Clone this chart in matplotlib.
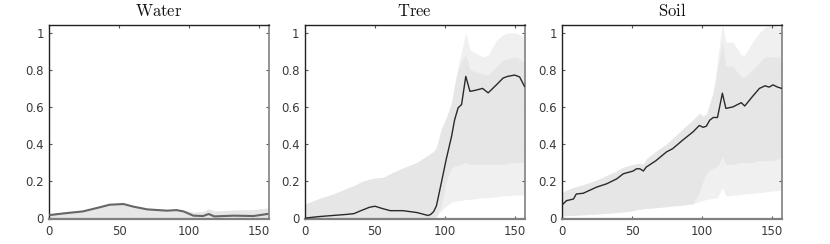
import numpy as np
import matplotlib
matplotlib.use("Agg")
import matplotlib.pyplot as plt

plt.rcParams['mathtext.fontset'] = 'cm'
plt.rcParams['font.family'] = ['DejaVu Sans']

titles = ["Water", "Tree", "Soil"]

# ---------------- Water ----------------
x_w = [0, 10, 24, 36, 43, 53, 60, 70, 84, 91, 96, 103, 110, 114, 118, 132, 146, 156]
mean_w = [0.016, 0.025, 0.036, 0.058, 0.072, 0.076, 0.062, 0.047, 0.040, 0.043, 0.036,
          0.013, 0.011, 0.022, 0.009, 0.013, 0.011, 0.022]
upper_w = [0.020, 0.030, 0.040, 0.062, 0.076, 0.080, 0.066, 0.051, 0.044, 0.047, 0.042,
           0.032, 0.035, 0.050, 0.038, 0.043, 0.045, 0.054]
lower_w = [0.0] * 18
dlo_w = lower_w
dhi_w = upper_w

# ---------------- Tree ----------------
x_t = [0, 5, 10, 20, 30, 35, 40, 46, 50, 56, 61, 70, 80, 86, 88, 90, 92, 94, 97.5, 101,
       104.8, 107, 109.5, 112, 115, 118, 122, 127, 131, 137, 141.7, 145, 150, 153.5, 157]
mean_t = [0.0, 0.004, 0.008, 0.014, 0.02, 0.024, 0.04, 0.058, 0.064, 0.05, 0.04, 0.04, 0.03,
          0.018, 0.014, 0.02, 0.035, 0.066, 0.19, 0.317, 0.44, 0.53, 0.595, 0.613, 0.765,
          0.684, 0.69, 0.70, 0.676, 0.72, 0.756, 0.765, 0.772, 0.762, 0.711]
upper_t = [0.075, 0.09, 0.105, 0.13, 0.16, 0.175, 0.195, 0.21, 0.215, 0.22, 0.24, 0.27, 0.30,
           0.33, 0.34, 0.35, 0.36, 0.38, 0.48, 0.54, 0.62, 0.72, 0.82, 0.90, 1.0, 0.91, 0.89,
           0.87, 0.88, 0.96, 0.99, 1.0, 1.0, 0.99, 0.98]
lower_t = [0.0] * 17 + [0.01, 0.04, 0.065, 0.085, 0.09, 0.095, 0.095, 0.10, 0.10, 0.105,
                        0.11, 0.11, 0.115, 0.12, 0.12, 0.125, 0.125, 0.125]
dlo_t = [0.0] * 17 + [0.01, 0.06, 0.20, 0.27, 0.28, 0.285, 0.29, 0.30, 0.29, 0.29,
                      0.29, 0.29, 0.29, 0.29, 0.295, 0.30, 0.30, 0.30]
dhi_t = [0.075, 0.09, 0.105, 0.13, 0.16, 0.175, 0.195, 0.21, 0.215, 0.22, 0.24, 0.27, 0.30,
         0.33, 0.34, 0.35, 0.36, 0.38, 0.48, 0.54, 0.62, 0.72, 0.80, 0.85, 0.88, 0.80, 0.79,
         0.78, 0.77, 0.82, 0.85, 0.86, 0.87, 0.86, 0.84]

# ---------------- Soil ----------------
x_s = [0, 3, 8, 10, 15, 24.5, 31.7, 39, 43.6, 50.7, 53, 55.5, 58, 60, 67, 74.5, 79, 86,
       93.6, 98, 100.7, 103, 105.5, 108, 111, 114.5, 117, 122, 128, 130.5, 136, 141, 145,
       148, 150.7, 154, 157]
mean_s = [0.072, 0.094, 0.103, 0.13, 0.134, 0.167, 0.185, 0.212, 0.239, 0.254, 0.266, 0.266,
          0.254, 0.275, 0.31, 0.357, 0.375, 0.42, 0.466, 0.50, 0.49, 0.496, 0.529, 0.543,
          0.543, 0.674, 0.592, 0.60, 0.623, 0.605, 0.656, 0.70, 0.714, 0.707, 0.719, 0.707, 0.70]
upper_s = [0.14, 0.15, 0.165, 0.17, 0.18, 0.205, 0.23, 0.255, 0.275, 0.29, 0.293, 0.295, 0.29,
           0.32, 0.36, 0.40, 0.43, 0.48, 0.53, 0.565, 0.55, 0.56, 0.62, 0.68, 0.85, 1.05, 0.95,
           0.95, 0.88, 0.88, 0.95, 1.0, 1.03, 1.04, 1.04, 1.03, 1.03]
lower_s = [0.012, 0.013, 0.015, 0.016, 0.018, 0.022, 0.026, 0.03, 0.033, 0.04, 0.045, 0.048,
           0.05, 0.052, 0.056, 0.062, 0.066, 0.07, 0.078, 0.09, 0.095, 0.10, 0.104, 0.107,
           0.11, 0.165, 0.12, 0.123, 0.128, 0.13, 0.134, 0.138, 0.141, 0.144, 0.146, 0.148, 0.15]
dlo_s = [0.012, 0.013, 0.015, 0.016, 0.018, 0.022, 0.026, 0.03, 0.033, 0.04, 0.045, 0.048,
         0.05, 0.052, 0.056, 0.062, 0.066, 0.07, 0.078, 0.14, 0.20, 0.24, 0.26, 0.27, 0.28,
         0.33, 0.29, 0.29, 0.30, 0.30, 0.30, 0.31, 0.31, 0.31, 0.31, 0.32, 0.32]
dhi_s = [0.14, 0.15, 0.165, 0.17, 0.18, 0.205, 0.23, 0.255, 0.275, 0.29, 0.293, 0.295, 0.29,
         0.32, 0.36, 0.40, 0.43, 0.48, 0.53, 0.565, 0.55, 0.56, 0.62, 0.68, 0.80, 0.95, 0.82,
         0.82, 0.76, 0.76, 0.80, 0.84, 0.87, 0.87, 0.87, 0.87, 0.87]

panels = [
    (x_w, mean_w, lower_w, upper_w, dlo_w, dhi_w, '#666666', 1.5),
    (x_t, mean_t, lower_t, upper_t, dlo_t, dhi_t, '#2a2a2a', 1.0),
    (x_s, mean_s, lower_s, upper_s, dlo_s, dhi_s, '#2a2a2a', 1.0),
]

fig = plt.figure(figsize=(8.3, 2.44), dpi=100)
lefts = [49.3 / 830, 305.0 / 830, 562.3 / 830]
w = 219.5 / 830
b = (244 - 219) / 244
h = 194.5 / 244

for i, (x, m, lo, up, dlo, dhi, lc, lw) in enumerate(panels):
    ax = fig.add_axes([lefts[i], b, w, h])
    ax.fill_between(x, lo, up, color='#f0f0f0', lw=0, zorder=1)
    ax.fill_between(x, dlo, dhi, color='#e6e6e6', lw=0, zorder=2)
    ax.plot(x, m, color=lc, lw=lw, zorder=3)
    ax.set_xlim(0, 157)
    ax.set_ylim(-0.005, 1.045)
    ax.set_xticks([0, 50, 100, 150])
    ax.set_yticks([0, 0.2, 0.4, 0.6, 0.8, 1])
    ax.set_yticklabels(['0', '0.2', '0.4', '0.6', '0.8', '1'])
    ax.tick_params(direction='in', length=2.5, width=0.8, top=True, right=True,
                   labelsize=8.5, labelcolor='#3a3a3a', color='#555555', pad=4)
    ax.spines['left'].set_color('#222222')
    ax.spines['top'].set_color('#222222')
    ax.spines['right'].set_color('#8a8a8a')
    ax.spines['bottom'].set_color('#808080')
    ax.spines['left'].set_linewidth(1.0)
    ax.spines['top'].set_linewidth(1.0)
    ax.spines['right'].set_linewidth(1.3)
    ax.spines['bottom'].set_linewidth(1.6)
    ax.set_title(r'$\mathrm{%s}$' % titles[i], fontsize=12, pad=6, color='#111111')

fig.savefig('out.png', dpi=100)
